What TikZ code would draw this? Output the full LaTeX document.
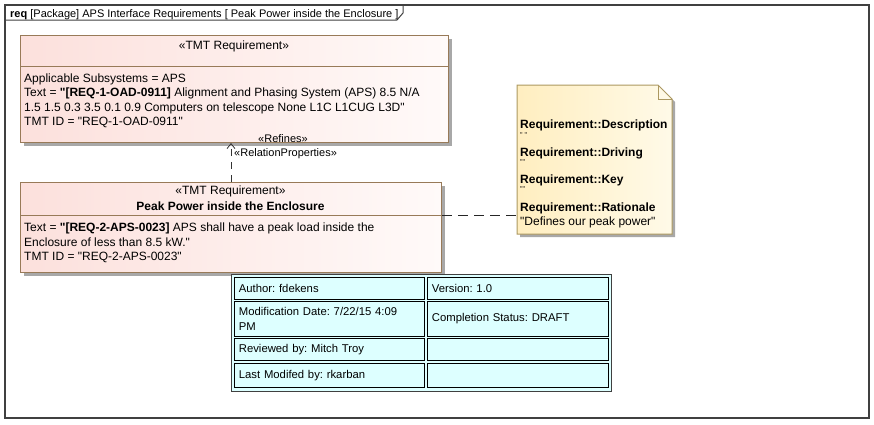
\documentclass[tikz,border=0pt]{standalone}
\usepackage{fontspec}
\setmainfont{Liberation Sans}[Ligatures=TeXOff]
\usepackage{xcolor}
\usetikzlibrary{positioning, arrows.meta}
\frenchspacing

\definecolor{reqpink}{RGB}{252,224,220}
\definecolor{reqlight}{RGB}{255,250,249}
\definecolor{reqedge}{RGB}{152,122,88}
\definecolor{noteyellow}{RGB}{255,238,192}
\definecolor{notelight}{RGB}{255,250,232}
\definecolor{noteedge}{RGB}{172,152,96}
\definecolor{tblfill}{RGB}{221,255,255}
\definecolor{shadowgray}{RGB}{168,168,168}
\definecolor{frameedge}{RGB}{64,64,64}

\begin{document}
\begin{tikzpicture}[x=1pt,y=1pt,yscale=-1,xscale=1,
  every node/.style={inner sep=0pt},
  txt/.style={anchor=base west, font=\fontsize{12}{14.5}\selectfont},
  ctxt/.style={anchor=base, font=\fontsize{12}{14.5}\selectfont},
  lbl/.style={font=\fontsize{11}{13}\selectfont},
  tiny/.style={anchor=base west, font=\fontsize{7}{8}\selectfont},
  shadowed/.style={preaction={fill=shadowgray, transform canvas={xshift=3pt, yshift=-3pt}}},
  reqbox/.style={shadowed, draw=reqedge, line width=1pt, left color=reqpink, right color=reqlight, anchor=north west},
  cell/.style={draw=black, line width=0.8pt, anchor=north west, align=left, inner xsep=4.5pt, font=\fontsize{11.3}{15}\selectfont},
  refineline/.style={draw=black!80, line width=0.8pt, dash pattern={on 7pt off 6pt}, -{Straight Barb[length=5pt, width=8pt]}},
  anchorline/.style={draw=black!85, line width=0.8pt, dash pattern={on 10pt off 6pt}}
]
\useasboundingbox (0,0) rectangle (874,424);

%Shape: Frame
\draw [color=frameedge, line width=1.2pt] (5,5) rectangle (869,418);
%Straight Lines
\draw [color=frameedge, line width=1pt] (5,20) -- (397,20) -- (403,13) -- (403,5);
% Text Node
\node [txt, font=\fontsize{11}{13}\selectfont] (title) at (10,17) {\textbf{req} [Package] APS Interface Requirements [ Peak Power inside the Enclosure ]};

%Shape: Rectangle
\node [reqbox, minimum width=428, minimum height=107] (req1) at (20,35) {};
\draw [color=reqedge, line width=1pt] (req1.west |- 0,66) -- (req1.east |- 0,66);
% Text Node
\node [ctxt] (req1st) at (234,49.5) {«TMT Requirement»};
\node [txt] (req1a) at (24,82) {Applicable Subsystems = APS};
\node [txt] (req1b) at (24,96.5) {Text = \textbf{"[REQ-1-OAD-0911]} Alignment and Phasing System (APS) 8.5 N/A};
\node [txt] (req1c) at (24,111) {1.5 1.5 0.3 3.5 0.1 0.9 Computers on telescope None L1C L1CUG L3D"};
\node [txt] (req1d) at (24,125.5) {TMT ID = "REQ-1-OAD-0911"};

%Shape: Rectangle
\node [reqbox, minimum width=421, minimum height=90] (req2) at (20,182) {};
\draw [color=reqedge, line width=1pt] (req2.west |- 0,215) -- (req2.east |- 0,215);
% Text Node
\node [ctxt] (req2st) at (230.5,194.5) {«TMT Requirement»};
\node [ctxt] (req2nm) at (230.5,210.5) {\textbf{Peak Power inside the Enclosure}};
\node [txt] (req2a) at (24,231.5) {Text = \textbf{"[REQ-2-APS-0023]} APS shall have a peak load inside the};
\node [txt] (req2b) at (24,246) {Enclosure of less than 8.5 kW."};
\node [txt] (req2c) at (24,260.5) {TMT ID = "REQ-2-APS-0023"};

%Straight Lines
\draw [refineline] (req2.north) -- (req2.north |- req1.south);
% Text Node
\node [lbl, anchor=base] (refines) at (283,142) {«Refines»};
\node [lbl, anchor=base west] (relprops) at (234,156) {«RelationProperties»};

%Shape: Note
\path [shadowed, draw=noteedge, line width=1pt, left color=noteyellow, right color=notelight]
  (517,85) -- (658,85) -- (672,99) -- (672,234) -- (517,234) -- cycle;
\draw [color=noteedge, line width=1pt] (658,85) -- (658,99) -- (672,99);
\coordinate (noteW) at (517,215);
% Text Node
\node [txt] (desc) at (520,128.3) {\textbf{Requirement::Description}};
\node [tiny] (descv) at (520,137.5) {" "};
\node [txt] (driv) at (520,156.3) {\textbf{Requirement::Driving}};
\node [tiny] (drivv) at (520,164.5) {""};
\node [txt] (key) at (520,183.3) {\textbf{Requirement::Key}};
\node [tiny] (keyv) at (520,191.5) {""};
\node [txt] (rat) at (520,211.3) {\textbf{Requirement::Rationale}};
\node [txt] (ratv) at (520,225) {"Defines our peak power"};

%Straight Lines
\draw [anchorline] (req2.east |- noteW) -- (noteW);

%Shape: Table
\draw [draw=black!75, line width=1pt, fill=tblfill] (231,274) rectangle (611,391);
\node [cell, text width=181, minimum height=22] (author) at (234,277) {Author: fdekens};
\node [cell, text width=172, minimum height=22] (version) at (427,277) {Version: 1.0};
\node [cell, text width=181, minimum height=35] (moddate) at (234,301) {Modification Date: 7/22/15 4:09\\PM};
\node [cell, text width=172, minimum height=35] (status) at (427,301) {Completion Status: DRAFT};
\node [cell, text width=181, minimum height=22] (review) at (234,338) {Reviewed by: Mitch Troy};
\node [cell, text width=172, minimum height=22] (revblank) at (427,338) {};
\node [cell, text width=181, minimum height=24] (lastmod) at (234,363) {Last Modifed by: rkarban};
\node [cell, text width=172, minimum height=24] (lmblank) at (427,363) {};

\end{tikzpicture}
\end{document}
